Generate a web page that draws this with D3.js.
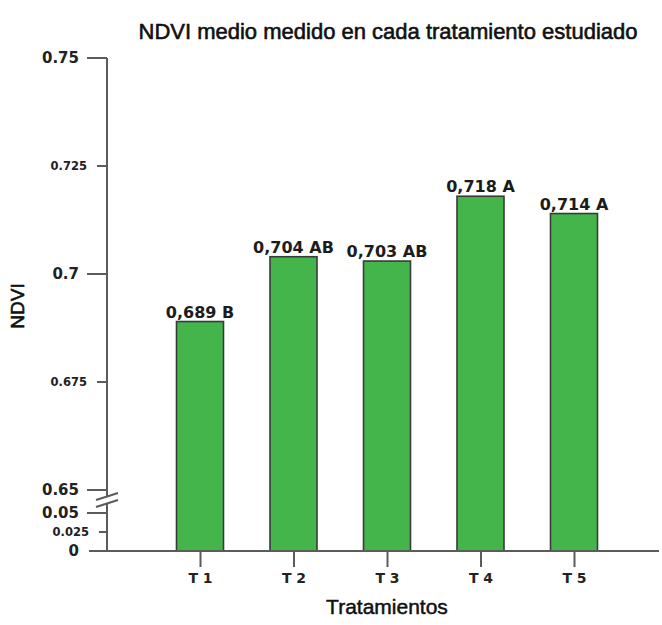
<!DOCTYPE html>
<html>
<head>
<meta charset="utf-8">
<script src="https://cdn.jsdelivr.net/npm/d3@7"></script>
<style>
  html, body { margin: 0; padding: 0; background: #fff; }
  svg { display: block; }
</style>
</head>
<body>
<div id="chart"></div>
<script>
// Mean NDVI per treatment, with significance groups
const treatments = ["T 1", "T 2", "T 3", "T 4", "T 5"];
const ndvi = [0.689, 0.704, 0.703, 0.718, 0.714];
const groups = ["B", "AB", "AB", "A", "A"];

// Broken y axis: upper segment and lower segment ticks
const upperTicks = [0.65, 0.675, 0.7, 0.725, 0.75];
const upperTickLabels = ["0.65", "0.675", "0.7", "0.725", "0.75"];
const lowerTicks = [0, 0.025, 0.05];
const lowerTickLabels = ["0", "0.025", "0.05"];
const minorTicks = [0.675, 0.725, 0.025];

const W = 662, H = 625;
const axisX = 107;
const baseY = 551;

const svg = d3.select("#chart").append("svg")
  .attr("width", W).attr("height", H);

const yUpper = d3.scaleLinear().domain([0.65, 0.75]).range([490, 58]);
const yLower = d3.scaleLinear().domain([0, 0.05]).range([baseY, 513]);
const x = d3.scalePoint().domain(treatments).range([200, 574]);
const barW = 47;

const axisColor = "#5b5b5b";
const numFont = "'DejaVu Sans', Verdana, sans-serif";
const textFont = "'Liberation Sans', Arial, Helvetica, sans-serif";
const commaFmt = d3.formatLocale({decimal: ",", thousands: ".", grouping: [3], currency: ["", ""]}).format(".3f");

// Title
svg.append("text")
  .attr("x", 388).attr("y", 39)
  .attr("text-anchor", "middle")
  .attr("font-family", textFont)
  .attr("font-size", 22)
  .attr("fill", "#111")
  .attr("stroke", "#111").attr("stroke-width", 0.6)
  .text("NDVI medio medido en cada tratamiento estudiado");

// Bars (continuous across the axis break)
const bars = svg.append("g");
bars.selectAll("rect")
  .data(ndvi)
  .join("rect")
  .attr("x", (d, i) => x(treatments[i]) - barW / 2)
  .attr("y", d => yUpper(d))
  .attr("width", barW)
  .attr("height", d => baseY - yUpper(d))
  .attr("fill", "#43b54b")
  .attr("stroke", "#3a3a3a")
  .attr("stroke-width", 1.6);

// Value labels
bars.selectAll("text")
  .data(ndvi)
  .join("text")
  .attr("x", (d, i) => x(treatments[i]))
  .attr("y", d => yUpper(d) - 4)
  .attr("text-anchor", "middle")
  .attr("font-family", numFont)
  .attr("font-weight", "bold")
  .attr("font-size", 16)
  .attr("fill", "#1c1c1c")
  .text((d, i) => commaFmt(d) + " " + groups[i]);

// Y axis line, in two pieces around the break
const axG = svg.append("g").attr("stroke", axisColor).attr("stroke-width", 2).attr("fill", "none");
axG.append("line").attr("x1", axisX).attr("x2", axisX).attr("y1", yUpper(0.75)).attr("y2", 496);
axG.append("line").attr("x1", axisX).attr("x2", axisX).attr("y1", 504).attr("y2", baseY);
// Break marks
axG.append("line").attr("x1", 96).attr("y1", 500).attr("x2", 118).attr("y2", 493);
axG.append("line").attr("x1", 96).attr("y1", 507).attr("x2", 118).attr("y2", 500);

// Y ticks and labels
function drawTicks(scale, ticks, labels) {
  const g = svg.append("g");
  ticks.forEach((t, i) => {
    const minor = minorTicks.includes(t);
    const y = scale(t);
    const len = t === 0 ? 0 : (minor ? (t === 0.025 ? 8 : 10) : 20);
    if (len > 0) {
      g.append("line")
        .attr("x1", axisX - len).attr("x2", axisX)
        .attr("y1", y).attr("y2", y)
        .attr("stroke", axisColor).attr("stroke-width", 2);
    }
    g.append("text")
      .attr("x", minor ? axisX - len - 10 : axisX - 28)
      .attr("y", y)
      .attr("dy", "0.36em")
      .attr("text-anchor", "end")
      .attr("font-family", numFont)
      .attr("font-weight", "bold")
      .attr("font-size", minor ? 11.5 : 15)
      .attr("fill", "#222")
      .text(labels[i]);
  });
}
drawTicks(yUpper, upperTicks, upperTickLabels);
drawTicks(yLower, lowerTicks, lowerTickLabels);

// X axis
const xAxis = d3.axisBottom(x).tickSize(16).tickPadding(6);
const xg = svg.append("g").attr("transform", `translate(0,${baseY})`).call(xAxis);
xg.select(".domain").remove();
xg.selectAll(".tick line").attr("stroke", axisColor).attr("stroke-width", 2);
xg.selectAll(".tick text")
  .attr("font-family", numFont)
  .attr("font-weight", "bold")
  .attr("font-size", 14)
  .attr("fill", "#222");
svg.append("line")
  .attr("x1", 89).attr("x2", 659)
  .attr("y1", baseY).attr("y2", baseY)
  .attr("stroke", axisColor).attr("stroke-width", 2);

// Axis titles
svg.append("text")
  .attr("x", 387).attr("y", 614)
  .attr("text-anchor", "middle")
  .attr("font-family", textFont)
  .attr("font-size", 21)
  .attr("fill", "#111")
  .attr("stroke", "#111").attr("stroke-width", 0.5)
  .text("Tratamientos");

svg.append("text")
  .attr("transform", "translate(24,306) rotate(-90)")
  .attr("text-anchor", "middle")
  .attr("font-family", textFont)
  .attr("font-size", 19)
  .attr("fill", "#111")
  .attr("stroke", "#111").attr("stroke-width", 0.6)
  .text("NDVI");
</script>
</body>
</html>
